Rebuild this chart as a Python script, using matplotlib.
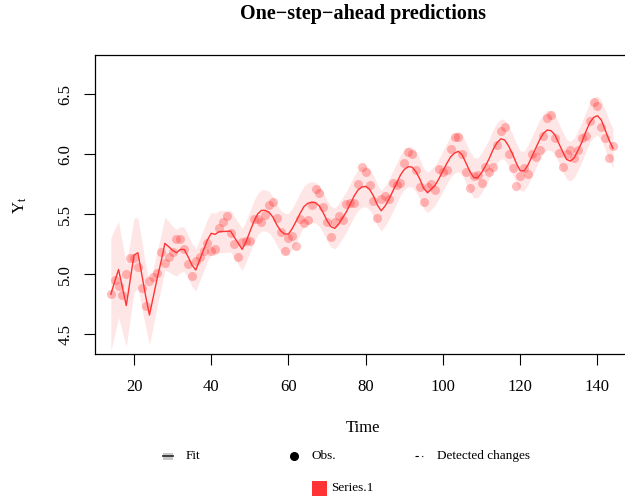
import matplotlib
matplotlib.use("Agg")
import matplotlib.pyplot as plt
from matplotlib.lines import Line2D
from matplotlib.patches import Rectangle

plt.rcParams['font.family'] = ['Liberation Serif', 'DejaVu Serif']
plt.rcParams['mathtext.fontset'] = 'custom'
plt.rcParams['mathtext.rm'] = 'Liberation Serif'
plt.rcParams['mathtext.it'] = 'Liberation Serif:italic'

time = list(range(14, 145))

obs = [4.836, 4.949, 4.905, 4.828, 5.004, 5.136, 5.136, 5.063, 4.890, 4.736, 4.942,
       4.977, 5.011, 5.182, 5.094, 5.147, 5.182, 5.293, 5.293, 5.215, 5.088, 4.984, 5.112,
       5.142, 5.193, 5.263, 5.198, 5.209, 5.384, 5.438, 5.489, 5.342, 5.252, 5.147, 5.268,
       5.278, 5.278, 5.464, 5.460, 5.434, 5.493, 5.576, 5.606, 5.468, 5.352, 5.193, 5.303,
       5.318, 5.236, 5.460, 5.425, 5.455, 5.576, 5.710, 5.680, 5.557, 5.434, 5.313, 5.434,
       5.489, 5.451, 5.587, 5.595, 5.598, 5.753, 5.897, 5.849, 5.743, 5.613, 5.468, 5.628,
       5.649, 5.624, 5.759, 5.746, 5.762, 5.924, 6.023, 6.004, 5.872, 5.724, 5.602, 5.724,
       5.753, 5.707, 5.875, 5.852, 5.872, 6.045, 6.142, 6.146, 6.001, 5.849, 5.720, 5.817,
       5.829, 5.762, 5.892, 5.852, 5.894, 6.075, 6.196, 6.225, 6.001, 5.883, 5.737, 5.820,
       5.886, 5.835, 6.006, 5.981, 6.040, 6.157, 6.306, 6.326, 6.138, 6.009, 5.892, 6.004,
       6.033, 5.969, 6.038, 6.133, 6.157, 6.282, 6.433, 6.407, 6.230, 6.133, 5.966, 6.068]

fit = [4.833, 4.94, 5.04, 4.89, 4.74, 4.95, 5.16, 5.18, 5.00, 4.822, 4.661,
       4.813, 4.967, 5.105, 5.258, 5.23, 5.20, 5.18, 5.208, 5.208, 5.147, 5.078, 5.036,
       5.119, 5.20, 5.286, 5.342, 5.333, 5.355, 5.357, 5.358, 5.36, 5.308, 5.258, 5.208,
       5.272, 5.355, 5.438, 5.502, 5.533, 5.533, 5.517, 5.475, 5.411, 5.361, 5.336, 5.336,
       5.383, 5.444, 5.508, 5.564, 5.592, 5.60, 5.597, 5.569, 5.513, 5.447, 5.397, 5.383,
       5.42, 5.47, 5.522, 5.586, 5.653, 5.703, 5.728, 5.733, 5.708, 5.653, 5.578, 5.53,
       5.569, 5.625, 5.692, 5.758, 5.828, 5.875, 5.897, 5.894, 5.855, 5.794, 5.717, 5.68,
       5.711, 5.744, 5.80, 5.864, 5.925, 5.98, 6.011, 6.025, 5.994, 5.925, 5.855, 5.805,
       5.805, 5.847, 5.903, 5.967, 6.042, 6.097, 6.13, 6.119, 6.069, 6.003, 5.925, 5.864,
       5.861, 5.911, 5.98, 6.05, 6.119, 6.175, 6.203, 6.197, 6.161, 6.092, 6.022, 5.958,
       5.944, 5.972, 6.036, 6.105, 6.189, 6.264, 6.308, 6.322, 6.286, 6.203, 6.119, 6.05]

# half width of the prediction band
half = [0.47, 0.44, 0.40, 0.37, 0.34, 0.32, 0.31, 0.29, 0.28, 0.26, 0.25,
        0.24, 0.23, 0.225, 0.22, 0.21, 0.20, 0.195, 0.19, 0.185, 0.18, 0.18, 0.175,
        0.175, 0.175, 0.175, 0.175, 0.175, 0.175, 0.175, 0.175, 0.175, 0.175, 0.175, 0.175,
        0.172, 0.172, 0.172, 0.172, 0.172, 0.172, 0.172, 0.172, 0.172, 0.172, 0.172, 0.172,
        0.17, 0.17, 0.17, 0.17, 0.17, 0.17, 0.17, 0.17, 0.17, 0.17, 0.17, 0.17,
        0.17, 0.17, 0.17, 0.17, 0.17, 0.17, 0.17, 0.17, 0.17, 0.17, 0.17, 0.17,
        0.168, 0.168, 0.168, 0.168, 0.168, 0.168, 0.168, 0.168, 0.168, 0.168, 0.168, 0.168,
        0.168, 0.168, 0.168, 0.168, 0.168, 0.168, 0.168, 0.168, 0.168, 0.168, 0.168, 0.168,
        0.166, 0.166, 0.166, 0.166, 0.166, 0.166, 0.166, 0.166, 0.166, 0.166, 0.166, 0.166,
        0.166, 0.166, 0.166, 0.166, 0.166, 0.166, 0.166, 0.166, 0.166, 0.166, 0.166, 0.166,
        0.165, 0.165, 0.165, 0.165, 0.165, 0.165, 0.165, 0.165, 0.165, 0.165, 0.165, 0.165]

lower = [f - h for f, h in zip(fit, half)]
upper = [f + h for f, h in zip(fit, half)]

red = '#FF3333'

fig = plt.figure(figsize=(6.25, 4.99), dpi=100)
ax = fig.add_axes([95/625, 145/499, 538/625, 299/499])

ax.fill_between(time, lower, upper, color=red, alpha=0.12, linewidth=0)
ax.plot(time, obs, 'o', color=red, alpha=0.32, markersize=6.5, markeredgewidth=0)
ax.plot(time, fit, color=red, linewidth=1)

ax.set_xlim(9.9, 149.2)
ax.set_ylim(4.336, 6.828)
ax.set_xticks([20, 40, 60, 80, 100, 120, 140])
ax.set_yticks([4.5, 5.0, 5.5, 6.0, 6.5])
ax.set_yticklabels(['4.5', '5.0', '5.5', '6.0', '6.5'], rotation=90, va='center')
ax.tick_params(length=7.7, width=0.8, labelsize=12, pad=10)
ax.tick_params(axis='y', pad=8)
for s in ax.spines.values():
    s.set_linewidth(0.9)

fig.text(363/625, 1 - 14/499, 'One\u2212step\u2212ahead predictions', ha='center', va='center',
         fontsize=14.5, fontweight='bold')
fig.text(363/625, 1 - 428/499, 'Time', ha='center', va='center', fontsize=12)
fig.text(20/625, 1 - 205/499, r'$\mathrm{Y}_\mathrm{t}$', ha='center', va='center',
         fontsize=12, rotation=90)

# legend drawn under the plot
def fx(px):
    return px / 625

def fy(py):
    return 1 - py / 499

fig.patches.append(Rectangle((fx(163), fy(459.5)), 10/625, 7/499, transform=fig.transFigure,
                             color='#c8c8c8', linewidth=0))
fig.lines.append(Line2D([fx(163), fx(173)], [fy(455.7), fy(455.7)], transform=fig.transFigure,
                        color='#333333', linewidth=1.3))
fig.text(fx(186), fy(456), 'Fit', va='center', fontsize=9.5)
fig.lines.append(Line2D([fx(294.3)], [fy(456)], transform=fig.transFigure, marker='o',
                        color='black', markersize=5.5, linestyle='none'))
fig.text(fx(311.7), fy(456), 'Obs.', va='center', fontsize=9.5)
fig.lines.append(Line2D([fx(415.5), fx(426)], [fy(456), fy(456)], transform=fig.transFigure,
                        color='black', linewidth=0.8, dashes=(3, 3, 1, 3)))
fig.text(fx(437.3), fy(456), 'Detected changes', va='center', fontsize=9.5)
fig.patches.append(Rectangle((fx(312.3), fy(495.7)), 14.4/625, 15/499, transform=fig.transFigure,
                             color=red, linewidth=0))
fig.text(fx(331), fy(488), 'Series.1', va='center', fontsize=9.5)

plt.savefig("out.png", dpi=100)
